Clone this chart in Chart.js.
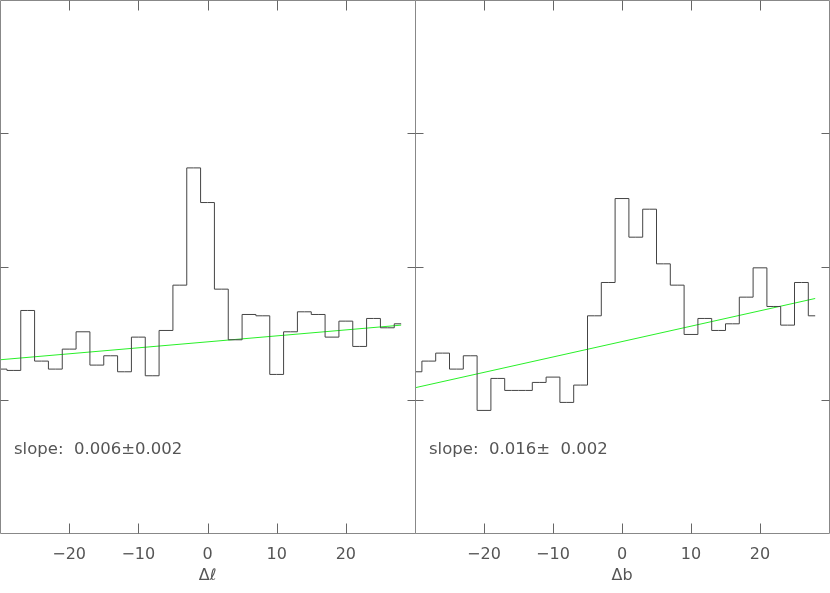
<!DOCTYPE html>
<html>
<head>
<meta charset="utf-8">
<script src="https://cdn.jsdelivr.net/npm/chart.js@4"></script>
<style>
  body { margin: 0; background: #fff; }
  #wrap { position: relative; width: 830px; height: 593px; overflow: hidden; }
  canvas { position: absolute; top: 0; }
</style>
</head>
<body>
<div id="wrap">
  <canvas id="left" width="416" height="593" style="left:0px"></canvas>
  <canvas id="right" width="415" height="593" style="left:415px"></canvas>
</div>
<script>
// bin centres (width 2), same for both panels
var binCenters = [-30, -28, -26, -24, -22, -20, -18, -16, -14, -12, -10, -8, -6, -4, -2,
                  0, 2, 4, 6, 8, 10, 12, 14, 16, 18, 20, 22, 24, 26, 28];
// histogram along delta l
var countsL = [1.23, 1.22, 1.67, 1.29, 1.23, 1.38, 1.51, 1.26, 1.33, 1.21, 1.47, 1.18, 1.52, 1.86, 2.74,
               2.48, 1.83, 1.45, 1.64, 1.63, 1.19, 1.51, 1.66, 1.64, 1.47, 1.59, 1.40, 1.61, 1.54, 1.57];
// histogram along delta b
var countsB = [1.21, 1.29, 1.35, 1.23, 1.33, 0.92, 1.16, 1.07, 1.07, 1.13, 1.17, 0.98, 1.11, 1.63, 1.88,
               2.51, 2.22, 2.43, 2.02, 1.86, 1.49, 1.61, 1.52, 1.57, 1.77, 1.99, 1.70, 1.56, 1.88, 1.63];
// linear fits (end points)
var fitX = [-30, 28];
var fitL = [1.30, 1.56];
var fitB = [1.09, 1.76];
var xTicks = [-20, -10, 0, 10, 20];
var yTicks = [1, 2, 3];

var FONT = '"DejaVu Sans", sans-serif';
var TEXT = '#555';

function toPoints(xs, ys) {
    return xs.map(function (x, i) { return { x: x, y: ys[i] }; });
}

// box frame with inward ticks, plus the slope label
var framePlugin = {
    id: 'frame',
    afterDatasetsDraw: function (chart, args, opts) {
        var ctx = chart.ctx;
        var a = chart.chartArea;
        var xs = chart.scales.x, ys = chart.scales.y;
        var l = Math.floor(a.left) + 0.5, r = Math.floor(a.right) + 0.5;
        var t = Math.floor(a.top) + 0.5, b = Math.floor(a.bottom) + 0.5;
        ctx.save();
        ctx.strokeStyle = '#888';
        ctx.lineWidth = 1;
        ctx.beginPath();
        ctx.moveTo(l, t); ctx.lineTo(r, t); ctx.lineTo(r, b); ctx.lineTo(l, b); ctx.closePath();
        ctx.stroke();

        ctx.strokeStyle = '#666';
        ctx.beginPath();
        xTicks.forEach(function (v) {
            var px = Math.round(xs.getPixelForValue(v)) + 0.5;
            ctx.moveTo(px, b); ctx.lineTo(px, b - 10);
            ctx.moveTo(px, t); ctx.lineTo(px, t + 10);
        });
        yTicks.forEach(function (v) {
            var py = Math.round(ys.getPixelForValue(v)) + 0.5;
            ctx.moveTo(l, py); ctx.lineTo(l + 8, py);
            ctx.moveTo(r, py); ctx.lineTo(r - 8, py);
        });
        ctx.stroke();

        ctx.fillStyle = TEXT;
        ctx.font = '16.5px ' + FONT;
        ctx.textBaseline = 'middle';
        ctx.textAlign = 'left';
        ctx.fillText(opts.text, a.left + 14, 450);
        ctx.restore();
    }
};

function makeChart(id, counts, fit, title, slopeText) {
    var ctx = document.getElementById(id).getContext('2d');
    return new Chart(ctx, {
        type: 'line',
        data: {
            datasets: [{
                data: toPoints(binCenters, counts),
                stepped: 'middle',
                borderColor: '#444',
                borderWidth: 1,
                pointRadius: 0,
                fill: false
            }, {
                data: toPoints(fitX, fit),
                borderColor: 'rgb(40, 240, 40)',
                borderWidth: 1,
                pointRadius: 0,
                fill: false
            }]
        },
        options: {
            responsive: false,
            animation: false,
            layout: { padding: { left: 0, right: 1, top: 0, bottom: 0 } },
            plugins: {
                legend: { display: false },
                tooltip: { enabled: false },
                frame: { text: slopeText }
            },
            scales: {
                x: {
                    type: 'linear',
                    min: -30,
                    max: 30,
                    grid: { display: false, drawTicks: false },
                    border: { display: false },
                    afterBuildTicks: function (scale) {
                        scale.ticks = xTicks.map(function (v) { return { value: v }; });
                    },
                    afterFit: function (scale) { scale.height = 60; },
                    ticks: {
                        padding: 12,
                        maxRotation: 0,
                        color: TEXT,
                        font: { family: FONT, size: 16 },
                        callback: function (v) { return v < 0 ? '\u2212' + Math.abs(v) : String(v); }
                    },
                    title: {
                        display: true,
                        text: title,
                        color: TEXT,
                        padding: { top: 4, bottom: 8 },
                        font: { family: FONT, size: 16 }
                    }
                },
                y: {
                    display: false,
                    min: 0,
                    max: 4
                }
            }
        },
        plugins: [framePlugin]
    });
}

makeChart('left', countsL, fitL, '\u0394\u2113', 'slope:  0.006\u00b10.002');
makeChart('right', countsB, fitB, '\u0394b', 'slope:  0.016\u00b1  0.002');
</script>
</body>
</html>
